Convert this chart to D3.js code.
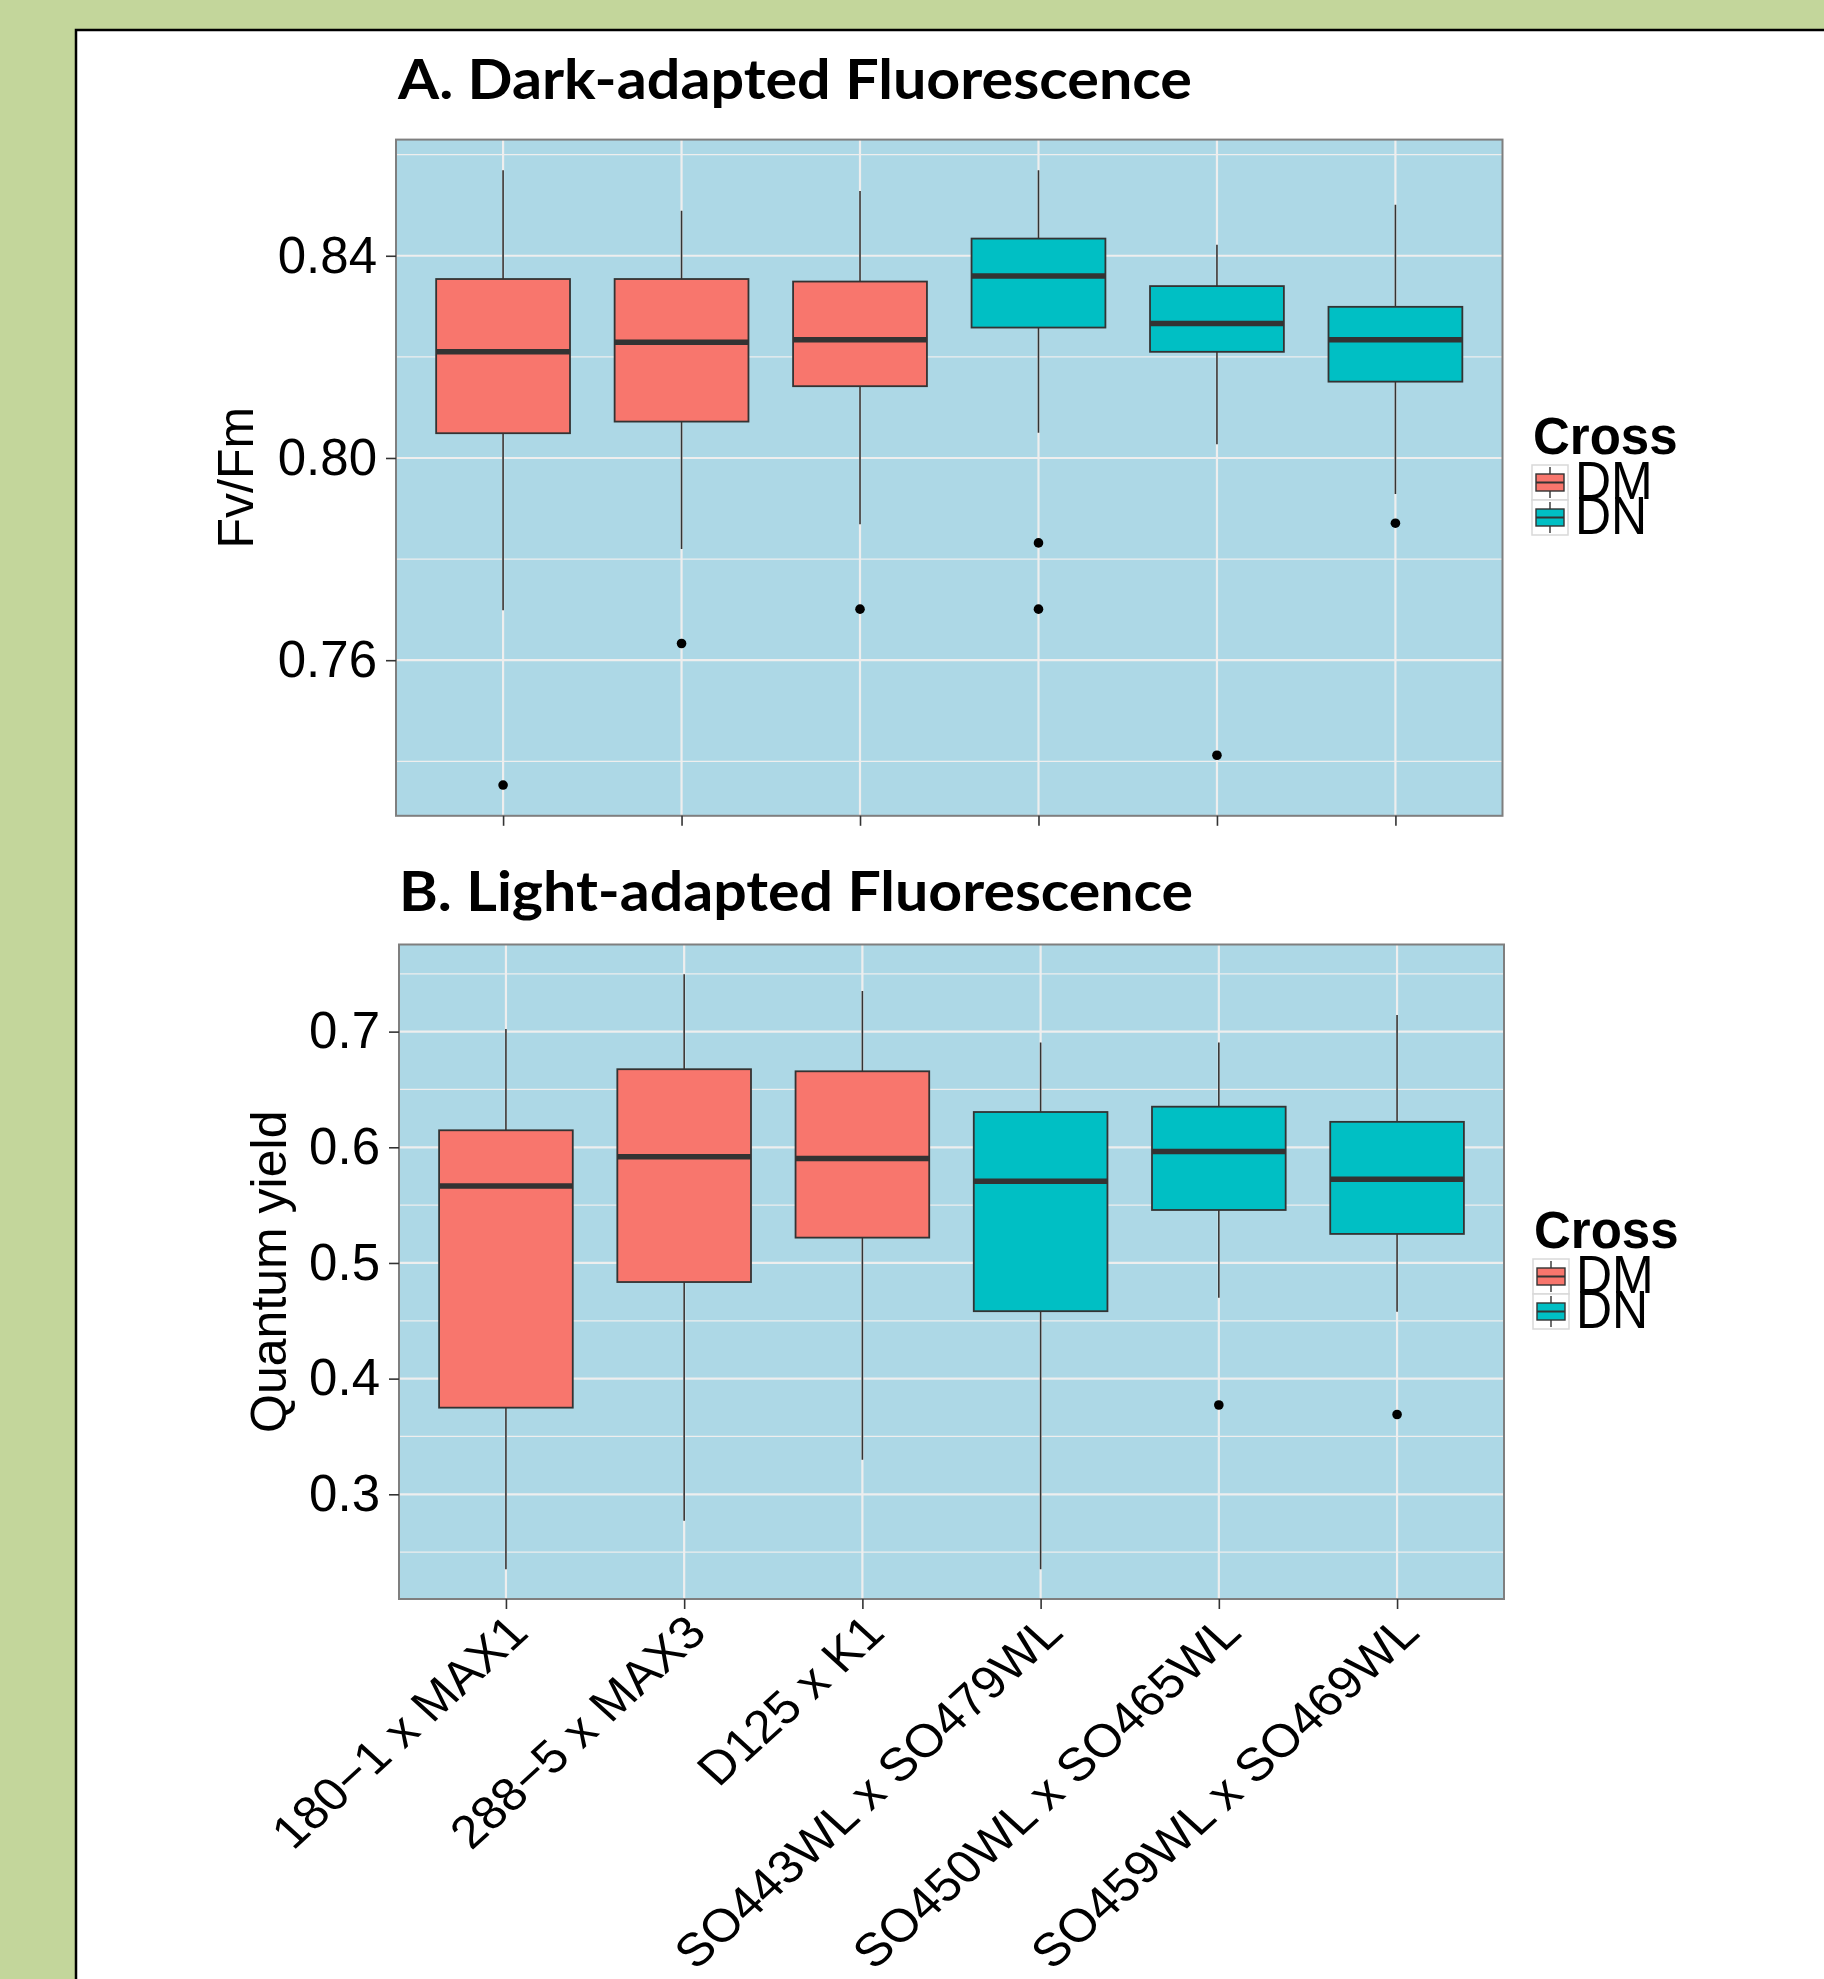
<!DOCTYPE html>
<html>
<head>
<meta charset="utf-8">
<script src="https://cdn.jsdelivr.net/npm/d3@7"></script>
<style>
  body { margin: 0; background: #c3d69b; }
  svg { display: block; }
</style>
</head>
<body>
<script>
// categories and groups
var categories = ["180\u22121 x MAX1", "288\u22125 x MAX3", "D125 x K1",
                  "SO443WL x SO479WL", "SO450WL x SO465WL", "SO459WL x SO469WL"];
var crossGroup = ["DM", "DM", "DM", "DN", "DN", "DN"];
var crossLevels = ["DM", "DN"];
var crossColors = ["#F8766D", "#00BFC4"];

// A. dark-adapted Fv/Fm (box stats)
var darkLow  = [0.7699, 0.7820, 0.7869, 0.8050, 0.8027, 0.7929];
var darkQ1   = [0.8049, 0.8072, 0.8142, 0.8258, 0.8210, 0.8151];
var darkMed  = [0.8210, 0.8229, 0.8234, 0.8360, 0.8266, 0.8234];
var darkQ3   = [0.8354, 0.8354, 0.8349, 0.8434, 0.8340, 0.8299];
var darkHigh = [0.8569, 0.8489, 0.8528, 0.8569, 0.8422, 0.8501];
var darkOut  = [[0.7353], [0.7633], [0.7701], [0.7832, 0.7701], [0.7412], [0.7871]];
var darkTicks = [0.76, 0.80, 0.84];
var darkMinor = [0.74, 0.78, 0.82, 0.86];

// B. light-adapted quantum yield
var lightLow  = [0.2352, 0.2771, 0.3298, 0.2352, 0.4700, 0.4579];
var lightQ1   = [0.3749, 0.4835, 0.5219, 0.4583, 0.5458, 0.5251];
var lightMed  = [0.5666, 0.5918, 0.5904, 0.5706, 0.5963, 0.5724];
var lightQ3   = [0.6147, 0.6675, 0.6657, 0.6305, 0.6351, 0.6220];
var lightHigh = [0.7022, 0.7496, 0.7352, 0.6905, 0.6905, 0.7144];
var lightOut  = [[], [], [], [], [0.3772], [0.3690]];
var lightTicks = [0.3, 0.4, 0.5, 0.6, 0.7];
var lightMinor = [0.25, 0.35, 0.45, 0.55, 0.65, 0.75];

var W = 1824, H = 1979;
var sans = "'Liberation Sans', Arial, sans-serif";

var svg = d3.select("body").append("svg")
    .attr("width", W)
    .attr("height", H);

svg.append("rect")
    .attr("width", W).attr("height", H)
    .attr("fill", "#c3d69b");

svg.append("rect")
    .attr("x", 76).attr("y", 30)
    .attr("width", 1900).attr("height", 2100)
    .attr("fill", "#fff")
    .attr("stroke", "#000")
    .attr("stroke-width", 2.5);

var colour = d3.scaleOrdinal().domain(crossLevels).range(crossColors);

function buildRows(low, q1, med, q3, high, out) {
  return categories.map(function(c, i) {
    return {cat: c, cross: crossGroup[i], low: low[i], q1: q1[i], med: med[i],
            q3: q3[i], high: high[i], out: out[i]};
  });
}

function drawPanel(p) {
  var rows = buildRows(p.low, p.q1, p.med, p.q3, p.high, p.out);

  // ggplot-like 5% expansion of the data range
  var all = [];
  rows.forEach(function(r) { all.push(r.low, r.high); all = all.concat(r.out); });
  var lo = d3.min(all), hi = d3.max(all), pad = (hi - lo) * 0.05;

  var x = d3.scalePoint().domain(categories).range([p.left, p.right]).padding(0.6);
  var y = d3.scaleLinear().domain([lo - pad, hi + pad]).range([p.bottom, p.top]);
  var bw = x.step() * 0.75;

  var g = svg.append("g");

  g.append("rect")
      .attr("x", p.left).attr("y", p.top)
      .attr("width", p.right - p.left).attr("height", p.bottom - p.top)
      .attr("fill", "#add8e6");

  g.selectAll(".minor")
    .data(p.minor)
    .enter().append("line")
      .attr("x1", p.left).attr("x2", p.right)
      .attr("y1", function(d) { return y(d); })
      .attr("y2", function(d) { return y(d); })
      .attr("stroke", "#eeeeee").attr("stroke-width", 1.2);

  g.selectAll(".major")
    .data(p.ticks)
    .enter().append("line")
      .attr("x1", p.left).attr("x2", p.right)
      .attr("y1", function(d) { return y(d); })
      .attr("y2", function(d) { return y(d); })
      .attr("stroke", "#eeeeee").attr("stroke-width", 2.2);

  g.selectAll(".vgrid")
    .data(categories)
    .enter().append("line")
      .attr("x1", function(d) { return x(d); })
      .attr("x2", function(d) { return x(d); })
      .attr("y1", p.top).attr("y2", p.bottom)
      .attr("stroke", "#eeeeee").attr("stroke-width", 2.2);

  var box = g.selectAll(".box")
    .data(rows)
    .enter().append("g");

  box.append("line")
      .attr("x1", function(d) { return x(d.cat); })
      .attr("x2", function(d) { return x(d.cat); })
      .attr("y1", function(d) { return y(d.high); })
      .attr("y2", function(d) { return y(d.low); })
      .attr("stroke", "#333").attr("stroke-width", 1.6);

  box.append("rect")
      .attr("x", function(d) { return x(d.cat) - bw / 2; })
      .attr("width", bw)
      .attr("y", function(d) { return y(d.q3); })
      .attr("height", function(d) { return y(d.q1) - y(d.q3); })
      .attr("fill", function(d) { return colour(d.cross); })
      .attr("stroke", "#333").attr("stroke-width", 1.8);

  box.append("line")
      .attr("x1", function(d) { return x(d.cat) - bw / 2; })
      .attr("x2", function(d) { return x(d.cat) + bw / 2; })
      .attr("y1", function(d) { return y(d.med); })
      .attr("y2", function(d) { return y(d.med); })
      .attr("stroke", "#333").attr("stroke-width", 5.5);

  box.selectAll("circle")
    .data(function(d) { return d.out.map(function(v) { return {cat: d.cat, v: v}; }); })
    .enter().append("circle")
      .attr("cx", function(d) { return x(d.cat); })
      .attr("cy", function(d) { return y(d.v); })
      .attr("r", 4.8)
      .attr("fill", "#000");

  g.append("rect")
      .attr("x", p.left).attr("y", p.top)
      .attr("width", p.right - p.left).attr("height", p.bottom - p.top)
      .attr("fill", "none")
      .attr("stroke", "#7f7f7f").attr("stroke-width", 2);

  // axes
  var yAxis = g.append("g")
      .attr("transform", "translate(" + p.left + ",0)")
      .call(d3.axisLeft(y).tickValues(p.ticks).tickFormat(d3.format(p.fmt))
            .tickSize(10).tickPadding(9));
  yAxis.select(".domain").remove();
  yAxis.selectAll("line").attr("stroke", "#333").attr("stroke-width", 1.6);
  yAxis.selectAll("text")
      .attr("font-family", sans).attr("font-size", 51).attr("fill", "#000");

  var xAxis = g.append("g")
      .attr("transform", "translate(0," + p.bottom + ")")
      .call(d3.axisBottom(x).tickSize(10));
  xAxis.select(".domain").remove();
  xAxis.selectAll("line").attr("stroke", "#333").attr("stroke-width", 1.6);
  if (p.xLabels) {
    xAxis.selectAll("text")
        .attr("x", 0).attr("y", 0).attr("dy", 0)
        .attr("text-anchor", "end")
        .attr("transform", "translate(24,36) scale(1,0.91) rotate(-45)")
        .attr("font-family", sans).attr("font-size", 51).attr("fill", "#000");
  } else {
    xAxis.selectAll("text").remove();
  }

  g.append("text")
      .attr("transform", "translate(" + p.yTitleX + "," + (p.top + p.bottom) / 2 + ") rotate(-90)")
      .attr("text-anchor", "middle")
      .attr("font-family", sans).attr("font-size", 50)
      .text(p.yTitle);

  g.append("text")
      .attr("x", p.titleX).attr("y", p.titleY)
      .attr("font-family", "Lato, 'Open Sans', sans-serif")
      .attr("font-weight", 700).attr("font-size", 55)
      .attr("textLength", 794).attr("lengthAdjust", "spacingAndGlyphs")
      .text(p.title);

  drawLegend(p.legendX, p.legendY);
}

function drawLegend(lx, ly) {
  var lg = svg.append("g").attr("transform", "translate(" + lx + "," + ly + ")");
  lg.append("text")
      .attr("x", 1).attr("y", 0)
      .attr("font-family", sans).attr("font-weight", 700).attr("font-size", 51)
      .text("Cross");
  var kw = 36, kh = 35;
  var key = lg.selectAll(".key")
    .data(crossLevels)
    .enter().append("g")
      .attr("transform", function(d, i) { return "translate(0," + (11 + i * kh) + ")"; });
  key.append("rect")
      .attr("width", kw).attr("height", kh)
      .attr("fill", "#fff").attr("stroke", "#d9d9d9").attr("stroke-width", 1.5);
  key.append("line")
      .attr("x1", kw / 2).attr("x2", kw / 2).attr("y1", 2).attr("y2", kh - 2)
      .attr("stroke", "#333").attr("stroke-width", 1.4);
  key.append("rect")
      .attr("x", 4).attr("y", 9).attr("width", kw - 8).attr("height", kh - 18)
      .attr("fill", function(d) { return colour(d); })
      .attr("stroke", "#333").attr("stroke-width", 1.4);
  key.append("line")
      .attr("x1", 4).attr("x2", kw - 4).attr("y1", kh / 2).attr("y2", kh / 2)
      .attr("stroke", "#333").attr("stroke-width", 2);
  key.append("text")
      .attr("x", kw + 7).attr("y", kh - 1)
      .attr("font-family", sans).attr("font-size", 50)
      .attr("transform", "translate(0," + (kh - 1) + ") scale(1,1.08) translate(0," + (-(kh - 1)) + ")")
      .text(function(d) { return d; });
}

drawPanel({
  title: "A. Dark-adapted Fluorescence", titleX: 398, titleY: 99,
  yTitle: "Fv/Fm", yTitleX: 253,
  left: 396, right: 1502.5, top: 139.6, bottom: 815.8,
  low: darkLow, q1: darkQ1, med: darkMed, q3: darkQ3, high: darkHigh, out: darkOut,
  ticks: darkTicks, minor: darkMinor, fmt: ".2f", xLabels: false,
  legendX: 1532, legendY: 454
});

drawPanel({
  title: "B. Light-adapted Fluorescence", titleX: 399, titleY: 911,
  yTitle: "Quantum yield", yTitleX: 286,
  left: 399, right: 1504, top: 944.5, bottom: 1599,
  low: lightLow, q1: lightQ1, med: lightMed, q3: lightQ3, high: lightHigh, out: lightOut,
  ticks: lightTicks, minor: lightMinor, fmt: ".1f", xLabels: true,
  legendX: 1533, legendY: 1248
});
</script>
</body>
</html>
